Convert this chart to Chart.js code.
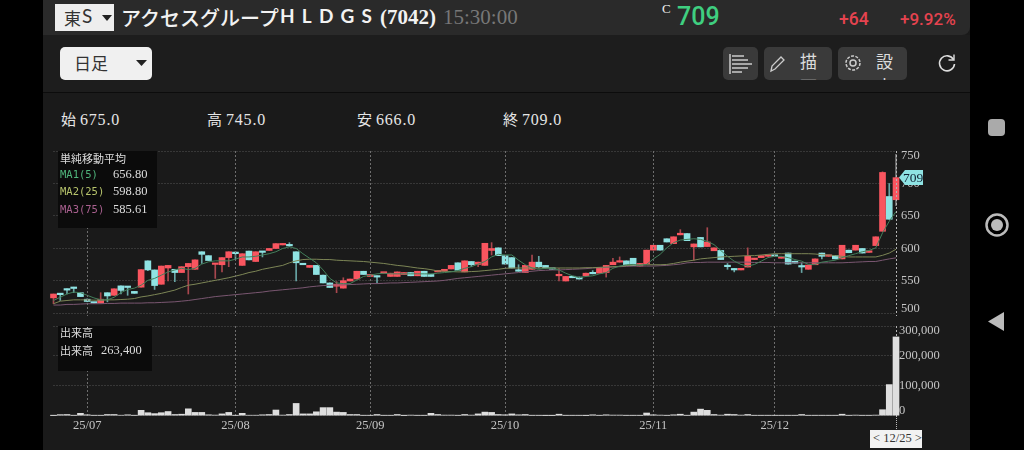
<!doctype html>
<html lang="ja">
<head>
<meta charset="utf-8">
<title>アクセスグループHLDGS (7042)</title>
<script src="https://cdn.jsdelivr.net/npm/chart.js@4"></script>
<style>
  html, body { margin: 0; padding: 0; background: #000; }
  #page { position: relative; width: 1024px; height: 450px; overflow: hidden; background: #000;
          font-family: "Noto Sans CJK JP", sans-serif; color: #ddd; }
  #page div, #page span { position: absolute; white-space: nowrap; }
  .serif { font-family: "Liberation Serif", serif; }
  #main { left: 43px; top: 0; width: 927px; height: 450px; background: #1a1a1a; }
  #head { left: 43px; top: 0; width: 927px; height: 35px; background: #2a2a2a; border-bottom-right-radius: 8px; }
  #tools { left: 43px; top: 35px; width: 927px; height: 57px; background: #1d1d1d; border-bottom: 1px solid #0c0c0c; }
  #market { left: 55px; top: 4px; width: 59px; height: 27px; background: #eee; }
  #span { left: 60px; top: 47px; width: 92px; height: 33px; background: #f0f0f0; border-radius: 5px; }
  .btn { top: 47px; height: 33px; background: #3a3a3a; border-radius: 5px; overflow: hidden; }
  .ohlc { top: 108px; font-size: 15px; color: #e6e6e6; }
  .ohlc b { font-weight: 400; font-family: "Liberation Serif", serif; font-size: 16px; letter-spacing: .8px; margin-left: 4px; }
  .box { background: #0b0b0b; }
  canvas { position: absolute; left: 0; }
</style>
</head>
<body>
<div id="page">
  <div id="main"></div>
  <div id="head"></div>
  <div id="tools"></div>

  <canvas id="price-chart" width="980" height="176" style="top:140px"></canvas>
  <canvas id="volume-chart" width="980" height="130" style="top:320px"></canvas>

  <div id="market"></div>
  <span style="left:64px;top:5px;font-size:17px;color:#333">東</span>
  <span style="left:82px;top:4px;font-size:19px;color:#333;font-family:Lato">S</span>
  <svg style="position:absolute;left:102px;top:15px" width="10" height="6"><path d="M0 0h10L5 6z" fill="#222"/></svg>
  <span style="left:121px;top:3px;font-size:20px;font-weight:500;color:#f2f2f2">アクセスグループ</span>
  <span style="left:280px;top:4px;font-size:19px;font-weight:700;color:#f2f2f2;font-family:Lato;letter-spacing:7.2px">HLDGS</span>
  <span class="serif" style="left:380px;top:5px;font-size:21px;font-weight:700;color:#f2f2f2">(7042)</span>
  <span class="serif" style="left:443px;top:5px;font-size:21px;color:#777">15:30:00</span>
  <span class="serif" style="left:662px;top:1px;font-size:13px;color:#eee">C</span>
  <span style="left:677px;top:0;font-size:25px;font-weight:500;color:#3fcf80;font-family:Roboto;line-height:34px">709</span>
  <span style="left:839px;top:9px;font-size:17.500px;font-weight:500;color:#e5434f;font-family:Roboto">+64</span>
  <span style="left:900px;top:9px;font-size:17px;font-weight:500;color:#e5434f;font-family:Roboto">+9.92%</span>

  <div id="span"></div>
  <span style="left:74px;top:50px;font-size:17px;color:#333">日足</span>
  <svg style="position:absolute;left:136px;top:60px" width="11" height="6"><path d="M0 0h11L5.500 6z" fill="#222"/></svg>

  <div class="btn" style="left:723px;width:35px"></div>
  <svg style="position:absolute;left:729px;top:54px" width="24" height="20" stroke="#ccc" stroke-width="1.500">
    <path d="M1 0v20M3 2h12M3 6h16M3 10h20M3 14h16M3 18h10"/></svg>
  <div class="btn" style="left:764px;width:68px">
    <span style="left:36px;top:1px;width:18px;font-size:17px;line-height:25px;white-space:normal;color:#ddd">描画</span>
  </div>
  <svg style="position:absolute;left:769px;top:55px" width="18" height="18" fill="none" stroke="#ccc" stroke-width="1.300">
    <path d="M2 16l1-5L12 2l3 3-9 9z"/></svg>
  <div class="btn" style="left:838px;width:69px">
    <span style="left:38px;top:1px;width:18px;font-size:17px;line-height:25px;white-space:normal;color:#ddd">設定</span>
  </div>
  <svg style="position:absolute;left:844px;top:54px" width="18" height="18" fill="none" stroke="#ccc" stroke-width="1.500">
    <circle cx="9" cy="9" r="3"/><circle cx="9" cy="9" r="7" stroke-dasharray="3 1.400"/></svg>
  <svg style="position:absolute;left:937px;top:53px" width="20" height="20" fill="none" stroke="#ddd" stroke-width="1.600">
    <path d="M16.500 6.500A7.500 7.500 0 1 0 17.500 11"/><path d="M17 1.500v5.500h-5.500" stroke-width="1.400"/></svg>

  <span class="ohlc" style="left:61px">始<b>675.0</b></span>
  <span class="ohlc" style="left:207px">高<b>745.0</b></span>
  <span class="ohlc" style="left:357px">安<b>666.0</b></span>
  <span class="ohlc" style="left:503px">終<b>709.0</b></span>

  <div class="box" style="left:58px;top:151px;width:99px;height:77px"></div>
  <span style="left:60px;top:150px;font-size:11px;color:#ddd">単純移動平均</span>
  <span style="left:60px;top:168px;font-size:10.500px;color:#4fb57c;font-family:'DejaVu Sans Mono'">MA1(5)</span>
  <span style="left:60px;top:185px;font-size:10.500px;color:#b7c46c;font-family:'DejaVu Sans Mono'">MA2(25)</span>
  <span style="left:60px;top:203px;font-size:10.500px;color:#a9608f;font-family:'DejaVu Sans Mono'">MA3(75)</span>
  <span class="serif" style="left:113px;top:167px;font-size:12.500px;color:#ddd">656.80</span>
  <span class="serif" style="left:113px;top:184px;font-size:12.500px;color:#ddd">598.80</span>
  <span class="serif" style="left:113px;top:202px;font-size:12.500px;color:#ddd">585.61</span>

  <div class="box" style="left:58px;top:326px;width:94px;height:45px"></div>
  <span style="left:60px;top:324px;font-size:11px;color:#ddd">出来高</span>
  <span style="left:60px;top:342px;font-size:11px;color:#ddd">出来高</span>
  <span class="serif" style="left:101px;top:343px;font-size:12.500px;color:#ddd">263,400</span>

  <svg id="close-tag" style="position:absolute;left:899px;top:170px" width="24" height="15"><path d="M0 7.500L6 0h18v15H6z" fill="#8fe3e3"/></svg>
  <span class="serif" style="left:903px;top:170px;font-size:13.500px;color:#123">709</span>

  <div style="left:896px;top:416px;height:13px;width:0;border-left:1px dotted #bbb"></div>
  <div style="left:870px;top:430px;width:52px;height:18px;background:#f2f2f2"></div>
  <span class="serif" style="left:873px;top:431px;font-size:12.500px;color:#333">&lt; 12/25 &gt;</span>

  <div style="left:988px;top:119px;width:17px;height:17px;border-radius:4px;background:#aaa"></div>
  <svg style="position:absolute;left:984px;top:212px" width="26" height="26"><circle cx="13" cy="13" r="10.500" fill="none" stroke="#bbb" stroke-width="2.500"/><circle cx="13" cy="13" r="6" fill="#bbb"/></svg>
  <svg style="position:absolute;left:988px;top:312px" width="17" height="19"><path d="M16 0v19L0 9.500z" fill="#bbb"/></svg>
</div>

<script>
// trading days
const days = [
  '06/24','06/25','06/26','06/27','06/30',
  '07/01','07/02','07/03','07/04','07/07','07/08','07/09','07/10','07/11','07/14','07/15','07/16','07/17','07/18','07/22','07/23','07/24','07/25','07/28','07/29','07/30','07/31',
  '08/01','08/04','08/05','08/06','08/07','08/08','08/12','08/13','08/14','08/15','08/18','08/19','08/20','08/21','08/22','08/25','08/26','08/27','08/28','08/29',
  '09/01','09/02','09/03','09/04','09/05','09/08','09/09','09/10','09/11','09/12','09/16','09/17','09/18','09/19','09/22','09/24','09/25','09/26','09/29','09/30',
  '10/01','10/02','10/03','10/06','10/07','10/08','10/09','10/10','10/14','10/15','10/16','10/17','10/20','10/21','10/22','10/23','10/24','10/27','10/28','10/29','10/30','10/31',
  '11/04','11/05','11/06','11/07','11/10','11/11','11/12','11/13','11/14','11/17','11/18','11/19','11/20','11/21','11/25','11/26','11/27','11/28',
  '12/01','12/02','12/03','12/04','12/05','12/08','12/09','12/10','12/11','12/12','12/15','12/16','12/17','12/18','12/19','12/22','12/23','12/24','12/25'
];

const opens = [524,531,538,540,532,522,517,516,532,528,
  542.5,541.5,534,540.5,581,567,545,570,568,563,
  572,568,595,589,575.5,575,586,594.5,574,596,
  580,595,597,600,605.5,606,595,576,571,574,
  559,547,542,539,550,553,565,557,558,562,
  557,557,560,563,558,565,560,564,565,568.5,
  578,564,580,575.5,574,597,601,589,586,566,
  563,568,579,574,569,558,550,556,556,558,
  563,562,563,575,579,581,585,573,576.5,597.5,
  605,615,607.5,621,623,602.5,617,603,596.5,597,
  572.5,569,567,571.5,583,586,588,588.5,585,593,
  580.5,572,568,575,593,588,589,584,597.5,597.5,
  600,594,604.5,626.5,680,675];
const closes = [530,529,536,538.5,526,518.5,516,522,527,538,
  535.5,540,531,567.5,567,543,573,574,563,572,
  577,582.5,591,581.5,576,586,595,592,592,582.5,
  595,594,600,607.5,607.5,604,578,575,574,560,
  547,540,545,550.5,553,565,560,560,556,563,
  562,564,563,558,565,557,557,565,568,574,
  566.5,581,575,579,608,600,589,576,570,565,
  574,579,572,570,568,559,557,555,553,562,
  561,571,574,579,581,574.5,573.5,577,597.5,605,
  597.5,610,618,623.5,612,607,602.5,610,601,583,
  572,567,569.5,588,585,589,588,588,587,576,
  577.5,571.5,574.5,584,588,590,584,605,593.5,605,
  593,596.5,618,717,645,709];
const highs = [530,531,538,540.5,532,522.5,517,532,532,538,
  542.5,541.5,534,567.5,581,567,573,574,568,572,
  577,582.5,595,589,576,586,595,595,592,596,
  595,595,600,607.5,607.5,609,595,576,574,574,
  559,547,549,555,553,565,565,560,558,563,
  562,564,563,563,565,565,560,565,568,574,
  578,581,580,579,608,609,601,589,586,575,
  574,590,588,574,569,569,557,556,556,562,
  566,571,574,585,587,581,585,577,597.5,605,
  605,615,618,629,623,607,617,632,601,597,
  577,569,569.5,601,585,589,588,588.5,587,593,
  580.5,578,574.5,584,593,590,589,605,597.5,605,
  600,596.5,618,718,700,745];
const lows = [515,520,530,532,526,518,516,516,518,528,
  530,528,531,540.5,566,537,545,550,549,563,
  530,568,577,581.5,554,564,572,584,574,582.5,
  580,587,597,600,605.5,603,550,575,571,560,
  547,540,532,539,550,553,560,557,547,562,
  557,557,560,558,558,557,557,564,565,568.5,
  566.5,564,572,572,574,590,589,576,570,565,
  563,568,570,570,568,550,550,555,553,558,
  561,562,556,575,579,574.5,573.5,573,576.5,597.5,
  597.5,610,607.5,621,612,582,602.5,603,596.5,583,
  568,564,567,571.5,583,586,588,588,585,576,
  577.5,563,568,575,584,588,584,584,593.5,597.5,
  593,594,604.5,626.5,645,666];

const ma5 = [520,525,530,533,532,528,524,521,521,525,
  532,537,539,543.5,551,554,559,564,567,569.5,
  567.5,569.5,576,579.5,581,581,581,583.5,587,587,
  588,590,592,595,600,602.5,600,592,585,578,
  567,554,547,546,546,551.5,557,559,561,562,
  561,561,561,561,561,561,561,562,563,564,
  566,569.5,572,576,580,587,591,590,590,582,
  575,570,568,569.5,569.5,567,562,558,555,557,
  558,561,563,569.5,573,575,575.5,574,575.5,584,
  591,601,609,613,614,615,614,611,606,597,
  588,580.5,575.5,573,575.5,580.5,586,588,588,586,
  583,580.5,575.5,575.5,579,580.5,582,586,589,592,
  595,597,601,624,642,656.8];
const ma25 = [515,519,520,521,521,521,520.5,520.5,521,521,
  521.5,522,523,525.5,527,529,531,533.5,536,540,
  543.5,545,547,549,551,553,555,557.5,560,563,
  565,568,570,572,574,578,581,583,583.5,583.5,
  583,583,582,581.5,581,580.5,580,579,578,577,
  575.5,574,573,571.5,570,569,567.5,565.5,565,564.5,
  564,564,564.5,565,566,567,568,569.5,570,570,
  570,570,570,570,570,570,570,570,570,570.5,
  570.5,571,571.5,572,572.5,573.5,574.5,575,575,575,
  575,575.5,577,579,580.5,582,584,585,586,587,
  587.5,588,588.5,589,589,590,591,592,592,592,
  592,592,592,591.5,590.5,590,589,588,587,587,
  587,587,587,589.5,593,598.8];
const ma75 = [513,513,514,514,514.5,515,515,515,515.5,515.5,
  516,516,516,516,516.5,516.5,517,517.5,518,519,
  520,521.5,523,524.5,526,527,528,529,530,531,
  532,533,534.5,535.5,536.5,537.5,538.5,539.5,541,542,
  543,543.5,544,544,544.5,545,545.5,546,546,546.5,
  547,547,547.5,548,548.5,549,549.5,550,551,552.5,
  554,555,556,557,558,559,560,561,562,563,
  564,565,566,566.5,567,567,567.5,568,568.5,569,
  570,570.5,571,571.5,572,572.5,573,573,573,573,
  573.5,574,575,576,578,578.5,578.5,579,579,579,
  579,579,579,579,578.5,578.5,578.5,578,578,578,
  578,578,578,578,578,578,578,578,578.5,579,
  579.5,580,580,582,584,585.61];

const volumes = [500,3500,4000,1000,8000,3000,1000,1000,4000,4000,
  1500,3000,1000,18000,10000,7000,10000,14000,4000,5000,
  23000,11000,11000,3000,2000,6000,11000,1000,8000,1500,
  1500,3000,4000,19000,2000,4000,41000,6000,6000,13000,
  27000,27000,12000,11000,4000,4000,1000,1000,4000,1000,
  1000,4000,500,2000,1000,1000,8000,4000,2000,2000,
  1000,4000,2000,6000,12000,11000,4000,3000,6000,3000,
  4000,1000,1000,500,500,5000,1000,1000,1000,500,
  3000,1000,3000,2000,2000,1000,1000,1000,9000,3000,
  2000,1000,3000,5000,1000,12000,22000,18000,4000,2000,
  5000,4000,2000,4000,1000,1000,1000,1000,1000,1000,
  1000,4000,1000,1000,1000,1000,1000,5000,1000,2000,
  1000,1000,2000,20000,104000,263400];

// tick labels
const monthTickIdx = [5, 27, 47, 67, 89, 107];
const monthTickLabels = ['25/07', '25/08', '25/09', '25/10', '25/11', '25/12'];
const priceTicks = [500, 550, 600, 650, 700, 750];
const volumeTicks = [0, 100000, 200000, 300000];

const UP = '#f9555f', DOWN = '#8fe3e3';
const LAST = days.length - 1;
const tickFont = { family: '"Liberation Serif", serif', size: 12.5, lineHeight: '10px' };

// last index has no label, it is the dotted crosshair
const setXTicks = (scale) => {
  scale.ticks = monthTickIdx.concat([LAST]).map((v) => ({ value: v }));
};
const xGridColor = (ctx) => (ctx.tick && ctx.tick.value === LAST ? '#b5b5b5' : '#6e6e6e');
const xLabel = (v) => {
  const i = monthTickIdx.indexOf(v);
  return i < 0 ? '' : monthTickLabels[i];
};
// top and bottom labels sit inside the pane, a blank line pushes them in
const yLabel = (text, v, lo, hi) => (v === hi ? ['', text] : v === lo ? [text, ''] : text);

// fixed plot area, the labels must not add padding
const fitY = (scale) => { scale.width = 84; scale.paddingTop = 0; scale.paddingBottom = 0; };
const fitX = (h) => (scale) => { scale.height = h; scale.paddingLeft = 0; scale.paddingRight = 0; };

const wickColor = (i) => {
  if (i === LAST) return '#777'; // under the crosshair
  return closes[i] >= opens[i] ? '#a8474e' : '#68a6a6';
};

const base = {
  responsive: false,
  animation: false,
  plugins: { legend: { display: false }, tooltip: { enabled: false } }
};

new Chart('price-chart', {
  type: 'bar',
  data: {
    labels: days,
    datasets: [
      { type: 'line', data: ma5, borderColor: '#437f5b', borderWidth: 1, pointRadius: 0, order: 0, clip: false },
      { type: 'line', data: ma25, borderColor: '#7d8656', borderWidth: 1, pointRadius: 0, order: 0, clip: false },
      { type: 'line', data: ma75, borderColor: '#7a5771', borderWidth: 1, pointRadius: 0, order: 0, clip: false },
      {
        data: days.map((d, i) => [opens[i], closes[i]]),
        backgroundColor: days.map((d, i) => (closes[i] >= opens[i] ? UP : DOWN)),
        barThickness: 6, minBarLength: 1.5, grouped: false, order: 1, clip: false
      },
      {
        data: days.map((d, i) => [lows[i], highs[i]]),
        backgroundColor: days.map((d, i) => wickColor(i)),
        barThickness: 1, grouped: false, order: 2, clip: false
      }
    ]
  },
  options: {
    ...base,
    layout: { padding: { left: 53.5, top: 11, right: 0, bottom: 0 } },
    scales: {
      x: {
        offset: false,
        afterBuildTicks: setXTicks,
        afterFit: fitX(0),
        ticks: { display: false, autoSkip: false },
        grid: { offset: false, drawTicks: false, color: xGridColor, z: 1 },
        border: { display: false, dash: [2, 2] }
      },
      y: {
        position: 'right',
        min: 496.15,
        max: 750,
        afterBuildTicks: (scale) => { scale.ticks = priceTicks.map((v) => ({ value: v })); },
        afterFit: fitY,
        ticks: {
          autoSkip: false, color: '#c4c4c4', font: tickFont, padding: 5,
          callback: (v) => yLabel(String(v), v, 500, 750)
        },
        grid: { drawTicks: false, color: '#555' },
        border: { display: false, dash: [1, 2] }
      }
    }
  }
});

new Chart('volume-chart', {
  type: 'bar',
  data: {
    labels: days,
    datasets: [{ data: volumes, backgroundColor: '#dedede', barThickness: 6, clip: false }]
  },
  options: {
    ...base,
    layout: { padding: { left: 53.5, top: 6, right: 0, bottom: 0 } },
    scales: {
      x: {
        offset: false,
        afterBuildTicks: setXTicks,
        afterFit: fitX(34.3),
        ticks: {
          autoSkip: false, maxRotation: 0, color: '#c4c4c4', padding: 3,
          font: { family: tickFont.family, size: 12.5 }, callback: xLabel
        },
        grid: { offset: false, drawTicks: false, color: xGridColor },
        border: { display: false, dash: [2, 2] }
      },
      y: {
        position: 'right',
        min: 0,
        max: 300000,
        afterBuildTicks: (scale) => { scale.ticks = volumeTicks.map((v) => ({ value: v })); },
        afterFit: fitY,
        ticks: {
          autoSkip: false, color: '#c4c4c4', font: tickFont, padding: 3,
          callback: (v) => yLabel(v.toLocaleString('en-US'), v, 0, 300000)
        },
        grid: { drawTicks: false, color: '#555' },
        border: { display: false, dash: [1, 2] }
      }
    }
  }
});
</script>
</body>
</html>
